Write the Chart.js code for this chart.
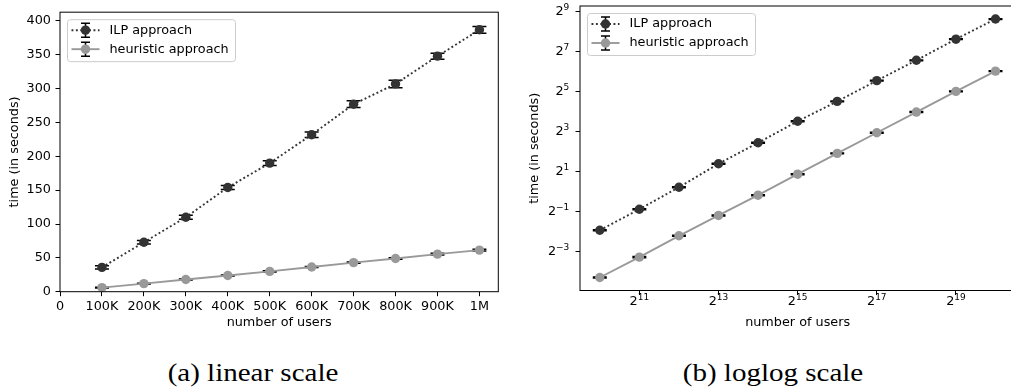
<!DOCTYPE html>
<html>
<head>
<meta charset="utf-8">
<script src="https://cdn.jsdelivr.net/npm/chart.js@4.4.0/dist/chart.umd.min.js"></script>
<style>
html, body { margin: 0; padding: 0; background: #fff; overflow: hidden; }
#wrap { position: relative; width: 1011px; height: 387px; overflow: hidden; }
canvas { position: absolute; top: 0; }
#linChart { left: 0; }
#logChart { left: 520px; }
.caption {
    position: absolute; top: 358.5px;
    font-family: 'Liberation Serif', 'Times New Roman', serif;
    font-size: 29px; line-height: 29px; white-space: nowrap;
    transform-origin: 50% 0;
    transform: translateX(-50%) scaleY(0.9);
    color: #000;
}
</style>
</head>
<body>
<div id="wrap">
    <canvas id="linChart" width="510" height="340"></canvas>
    <canvas id="logChart" width="500" height="340"></canvas>
    <div class="caption" style="left:253px">(a) linear scale</div>
    <div class="caption" style="left:773px">(b) loglog scale</div>
</div>
<script>
// (a) linear scale
const users = [100000, 200000, 300000, 400000, 500000, 600000, 700000, 800000, 900000, 1000000];
const ilpTime = [36, 73, 110, 154, 190, 232, 277, 307, 348, 387];
const ilpErr = [2.5, 2.5, 3, 3, 3.5, 4, 5, 5.5, 4.5, 5];
const heurTime = [6, 12, 18, 24, 30, 36.5, 43, 49, 55.5, 61.5];
const heurErr = [0.4, 0.5, 0.6, 0.7, 0.8, 0.9, 1, 1.1, 1.2, 1.3];
const linXTicks = [0, 100000, 200000, 300000, 400000, 500000, 600000, 700000, 800000, 900000, 1000000];
const linXLabels = ['0', '100K', '200K', '300K', '400K', '500K', '600K', '700K', '800K', '900K', '1M'];
const linYTicks = [0, 50, 100, 150, 200, 250, 300, 350, 400];

// (b) loglog scale
const usersLog = [1024, 2048, 4096, 8192, 16384, 32768, 65536, 131072, 262144, 524288, 1048576];
const ilpTimeLog = [0.264, 0.547, 1.17, 2.64, 5.46, 11.5, 22.9, 46.9, 95, 197, 396];
const ilpErrLog = [0.005, 0.01, 0.02, 0.04, 0.08, 0.16, 0.3, 0.6, 1.2, 2.5, 5];
const heurTimeLog = [0.0515, 0.104, 0.218, 0.441, 0.889, 1.84, 3.78, 7.73, 15.8, 32.4, 65.3];
const heurErrLog = [0.001, 0.002, 0.004, 0.008, 0.015, 0.03, 0.06, 0.12, 0.25, 0.5, 1];
const logXTicks = [2048, 8192, 32768, 131072, 524288];
const logXExp = ['11', '13', '15', '17', '19'];
const logYTicks = [0.125, 0.5, 2, 8, 32, 128, 512];
const logYExp = ['\u22123', '\u22121', '1', '3', '5', '7', '9'];

const font = { family: 'DejaVu Sans', size: 12.8 };
const ilpColor = '#333333';
const heurColor = '#999999';

// error bars, drawn under the markers
const errorBars = {
    id: 'errorBars',
    beforeDatasetsDraw(chart) {
        const ctx = chart.ctx;
        const xs = chart.scales.x, ys = chart.scales.y;
        ctx.save();
        ctx.strokeStyle = '#000';
        ctx.lineWidth = 1.5;
        chart.data.datasets.forEach(ds => {
            ds.data.forEach((p, i) => {
                const e = ds.errors[i];
                const px = xs.getPixelForValue(p.x);
                const y0 = ys.getPixelForValue(p.y - e);
                const y1 = ys.getPixelForValue(p.y + e);
                ctx.beginPath();
                ctx.moveTo(px, y0); ctx.lineTo(px, y1);
                ctx.moveTo(px - 7, y0); ctx.lineTo(px + 7, y0);
                ctx.moveTo(px - 7, y1); ctx.lineTo(px + 7, y1);
                ctx.stroke();
            });
        });
        ctx.restore();
    }
};

// box around the axes + matplotlib-like legend
const frameLegend = {
    id: 'frameLegend',
    afterDraw(chart) {
        const { ctx, chartArea: a } = chart;
        ctx.save();
        ctx.strokeStyle = '#000';
        ctx.lineWidth = 1;
        ctx.strokeRect(a.left, a.top, a.right - a.left, a.bottom - a.top);

        const bx = a.left + 7.5, by = a.top + 7.5, bw = 168, bh = 42, r = 3;
        ctx.beginPath();
        ctx.moveTo(bx + r, by);
        ctx.lineTo(bx + bw - r, by); ctx.arcTo(bx + bw, by, bx + bw, by + r, r);
        ctx.lineTo(bx + bw, by + bh - r); ctx.arcTo(bx + bw, by + bh, bx + bw - r, by + bh, r);
        ctx.lineTo(bx + r, by + bh); ctx.arcTo(bx, by + bh, bx, by + bh - r, r);
        ctx.lineTo(bx, by + r); ctx.arcTo(bx, by, bx + r, by, r);
        ctx.closePath();
        ctx.fillStyle = 'rgba(255,255,255,0.8)';
        ctx.fill();
        ctx.strokeStyle = '#cccccc';
        ctx.stroke();

        chart.data.datasets.forEach((ds, i) => {
            const cy = by + 10.5 + i * 19;
            const mx = bx + 18;
            ctx.strokeStyle = ds.borderColor;
            ctx.lineWidth = ds.borderWidth;
            ctx.setLineDash(ds.borderDash || []);
            ctx.beginPath(); ctx.moveTo(bx + 4, cy); ctx.lineTo(bx + 32, cy); ctx.stroke();
            ctx.setLineDash([]);
            ctx.strokeStyle = '#000';
            ctx.lineWidth = 1.5;
            ctx.beginPath();
            ctx.moveTo(mx, cy - 7); ctx.lineTo(mx, cy + 7);
            ctx.moveTo(mx - 4.5, cy - 7); ctx.lineTo(mx + 4.5, cy - 7);
            ctx.moveTo(mx - 4.5, cy + 7); ctx.lineTo(mx + 4.5, cy + 7);
            ctx.stroke();
            ctx.fillStyle = ds.pointBackgroundColor;
            ctx.beginPath(); ctx.arc(mx, cy, 4.7, 0, Math.PI * 2); ctx.fill();
            ctx.fillStyle = '#000';
            ctx.font = '12.8px "DejaVu Sans"';
            ctx.textBaseline = 'middle';
            ctx.textAlign = 'left';
            ctx.fillText(ds.label, bx + 42, cy);
        });
        ctx.restore();
    }
};

// power-of-two tick labels (base plus smaller raised exponent)
const powerLabels = {
    id: 'powerLabels',
    afterDraw(chart) {
        const ctx = chart.ctx;
        const xs = chart.scales.x, ys = chart.scales.y;
        const base = '12.8px "DejaVu Sans"', sup = '9px "DejaVu Sans"';
        ctx.save();
        ctx.fillStyle = '#000';
        ctx.textBaseline = 'alphabetic';
        ctx.textAlign = 'left';
        logXTicks.forEach((v, i) => {
            const px = xs.getPixelForValue(v);
            ctx.font = base; const w2 = ctx.measureText('2').width;
            ctx.font = sup; const we = ctx.measureText(logXExp[i]).width;
            const x0 = px - (w2 + we) / 2;
            const yb = xs.top + 14.8;
            ctx.font = base; ctx.fillText('2', x0, yb);
            ctx.font = sup; ctx.fillText(logXExp[i], x0 + w2, yb - 5);
        });
        logYTicks.forEach((v, i) => {
            const py = ys.getPixelForValue(v);
            ctx.font = base; const w2 = ctx.measureText('2').width;
            ctx.font = sup; const we = ctx.measureText(logYExp[i]).width;
            const x1 = ys.right - 10.7;
            ctx.font = base; ctx.fillText('2', x1 - we - w2, py + 3);
            ctx.font = sup; ctx.fillText(logYExp[i], x1 - we, py - 1.5);
        });
        ctx.restore();
    }
};

function series(label, xs, ys, errs, color, dash) {
    return {
        label: label,
        data: xs.map((x, i) => ({ x: x, y: ys[i] })),
        errors: errs,
        borderColor: color,
        borderWidth: 1.9,
        borderDash: dash,
        pointRadius: 4.7,
        pointHoverRadius: 4.7,
        pointBorderWidth: 0,
        pointBackgroundColor: color,
        fill: false,
        tension: 0
    };
}

function axis(type, min, max, tickVals, tickLabels, title, fitSize, isX) {
    return {
        type: type,
        bounds: 'data',
        min: min,
        max: max,
        afterBuildTicks: s => { s.ticks = tickVals.map(v => ({ value: v })); },
        afterFit: s => { if (isX) s.height = fitSize; else s.width = fitSize; },
        ticks: {
            display: tickLabels !== false,
            callback: (v, i) => tickLabels ? tickLabels[i] : String(v),
            color: '#000',
            font: font,
            padding: isX ? 3 : 4.5,
            maxRotation: 0,
            autoSkip: false
        },
        grid: { display: true, drawOnChartArea: false, drawTicks: true, tickLength: 4.5, tickColor: '#000', tickWidth: 1 },
        border: { display: false },
        title: {
            display: true,
            text: title,
            color: '#000',
            font: font,
            padding: isX ? { top: 0, bottom: 9.3 } : { top: 7.3, bottom: 0 }
        }
    };
}

new Chart(document.getElementById('linChart').getContext('2d'), {
    type: 'line',
    data: {
        datasets: [
            series('ILP approach', users, ilpTime, ilpErr, ilpColor, [1.9, 2.5]),
            series('heuristic approach', users, heurTime, heurErr, heurColor, [])
        ]
    },
    options: {
        responsive: false,
        animation: false,
        events: [],
        layout: { padding: { left: 0, top: 6.7, right: 11.7, bottom: 0 } },
        plugins: { legend: { display: false }, tooltip: { enabled: false } },
        scales: {
            x: axis('linear', 0, 1045000, linXTicks, linXLabels, 'number of users', 48.3, true),
            y: axis('linear', 0, 413, linYTicks, null, 'time (in seconds)', 60, false)
        }
    },
    plugins: [errorBars, frameLegend]
});

new Chart(document.getElementById('logChart').getContext('2d'), {
    type: 'line',
    data: {
        datasets: [
            series('ILP approach', usersLog, ilpTimeLog, ilpErrLog, ilpColor, [1.9, 2.5]),
            series('heuristic approach', usersLog, heurTimeLog, heurErrLog, heurColor, [])
        ]
    },
    options: {
        responsive: false,
        animation: false,
        events: [],
        layout: { padding: { left: 0, top: 6, right: 0, bottom: 0 } },
        plugins: { legend: { display: false }, tooltip: { enabled: false } },
        scales: {
            x: axis('logarithmic', Math.pow(2, 9.5), Math.pow(2, 20.5), logXTicks, false, 'number of users', 49.5, true),
            y: axis('logarithmic', Math.pow(2, -4.93), Math.pow(2, 9.28), logYTicks, false, 'time (in seconds)', 60, false)
        }
    },
    plugins: [errorBars, frameLegend, powerLabels]
});
</script>
</body>
</html>
